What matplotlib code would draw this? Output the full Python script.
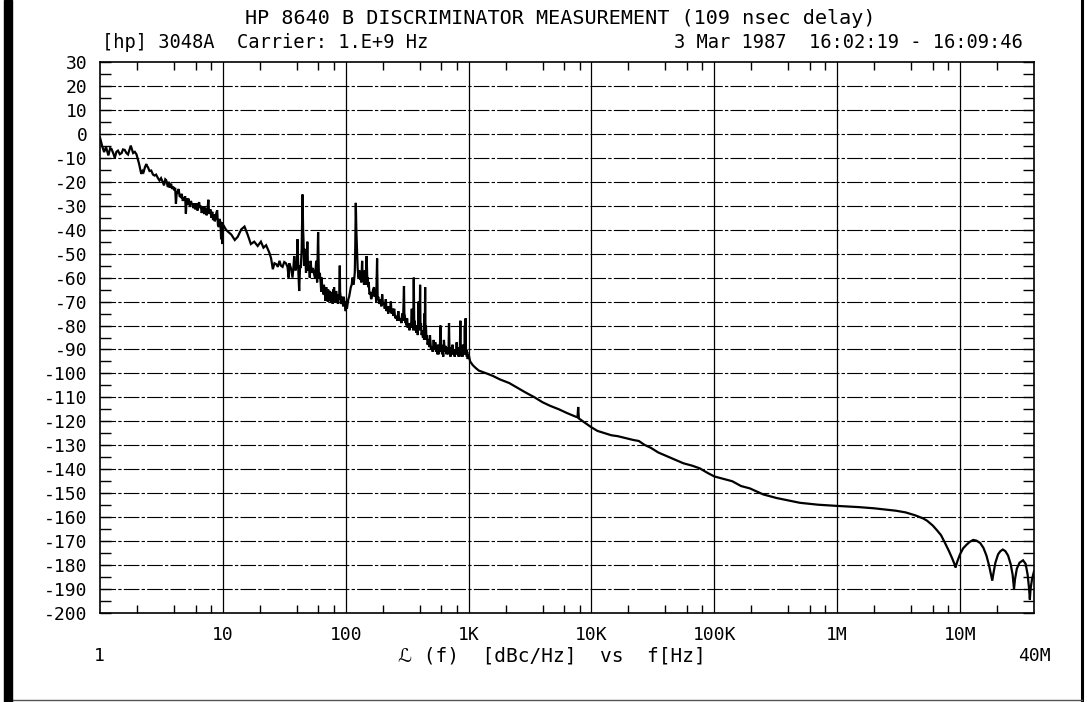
import matplotlib
matplotlib.use("Agg")
import matplotlib.pyplot as plt
from matplotlib.ticker import FixedLocator, NullFormatter
from matplotlib.patches import Rectangle
from matplotlib.lines import Line2D

# ---------------- data ----------------
f_low = [1.00, 1.04, 1.08, 1.12, 1.17, 1.21, 1.24, 1.28, 1.32, 1.36, 1.40, 1.45, 1.50, 1.54,
         1.59, 1.64, 1.69, 1.74, 1.78, 1.82, 1.86, 1.92, 1.98, 2.03, 2.08, 2.13, 2.17, 2.22,
         2.26, 2.32, 2.38, 2.42, 2.46, 2.53, 2.61, 2.70, 2.78, 2.86, 2.95, 3.05, 3.14, 3.24,
         3.32, 3.40, 3.46, 3.52, 3.57, 3.63, 3.70, 3.79, 3.86, 3.94, 4.03, 4.09, 4.15, 4.22,
         4.28, 4.36, 4.45, 4.56, 4.63, 4.72, 4.80, 4.86, 4.93, 5.00, 5.08, 5.17, 5.24, 5.32,
         5.40, 5.50, 5.60, 5.66, 5.75, 5.85, 5.94, 6.02, 6.12, 6.22, 6.32, 6.41, 6.50, 6.62,
         6.72, 6.82, 6.93, 7.05, 7.16, 7.26, 7.38, 7.50, 7.62, 7.72, 7.80, 7.92, 8.05, 8.20,
         8.32, 8.45, 8.60, 8.72, 8.85, 8.99, 9.12, 9.28, 9.40, 9.55, 9.68, 9.80, 9.90, 9.95]
l_low = [-1.5, -5, -7.6, -5.5, -9, -6, -6.3, -8, -10, -7.5, -7, -8.5, -8, -6.5,
         -6.7, -8, -8.6, -6.5, -4.9, -6.5, -8, -7.5, -8.5, -10.5, -12.5, -15, -16.7, -15.5,
         -16, -14, -12.6, -13.5, -14, -15.5, -15.3, -17, -17.4, -17, -18.3, -19.5, -18.5, -20.1,
         -21.5, -19, -19.4, -21, -22.2, -20, -22.5, -20.8, -23, -22, -23.6, -22.5, -29.2, -24,
         -24.3, -23, -26, -26.4, -25, -28, -26.5, -27.8, -26, -33.3, -27, -29.5, -27, -28.5,
         -30.5, -28, -29.5, -29.2, -31, -29, -31.5, -30.6, -29, -32, -29.5, -28.5, -31, -30,
         -33, -31.9, -30.5, -33.5, -31, -31.3, -34, -31.5, -27.5, -33, -33.3, -31.5, -35, -32.5,
         -36, -33.5, -36.5, -35.4, -33, -31.9, -38, -38.9, -35.5, -36.8, -44, -41.7, -37, -46]

f_mid = [10.0, 10.2, 10.6, 11.1, 11.7, 12.5, 13.2, 14.1, 15.0, 15.9, 16.9, 18.0, 19.2, 20.4,
         21.4, 22.5, 23.9, 24.7, 25.5, 26.3, 27.2, 28.0, 28.9, 29.7, 30.6, 31.6, 32.6, 33.6,
         34.3, 34.7, 35.8, 36.9, 37.5, 38.1, 39.0, 40.0, 40.5, 41.2, 41.8, 42.5, 43.1, 43.8,
         44.5, 45.0, 45.3, 45.8, 46.7, 47.5, 48.2, 48.7, 49.4, 50.2, 51.0, 51.8, 52.8, 54.0,
         55.0, 56.2, 57.5, 58.5, 59.6, 60.5, 61.5,
         62.5, 63.2, 63.8, 64.4, 65.0, 65.8, 66.5, 67.5, 68.4, 69.0, 69.5, 70.2, 70.8, 71.4,
         72.0, 72.8, 73.6, 74.5, 75.2, 76.0, 77.0, 77.8, 78.4, 79.0, 79.8, 80.4, 81.2, 82.0,
         83.0, 84.0, 84.8, 85.6, 86.5, 87.5, 88.5, 89.5, 90.0, 90.5, 91.5, 92.5, 93.4, 94.2,
         95.4, 96.5, 97.8, 99.0, 100.0, 101.0, 102.2, 103.5, 105.0, 106.6, 108.2, 110.0, 111.8,
         113.6, 115.3, 117.0, 118.5, 119.5, 120.8, 122.0,
         123, 125, 127, 129, 131, 132, 134, 136, 137.5, 139, 141, 143, 145, 148, 150, 151, 153,
         154, 156, 159, 161, 164, 167, 170, 172, 175, 177, 180, 182, 184, 188, 192, 195, 198,
         201, 204, 208, 212, 215, 218, 222, 225, 229, 233, 236, 240, 244, 248, 253, 258, 263,
         268, 273, 279, 284, 288, 293, 298, 300, 303, 307, 310, 313, 316, 320, 325, 330, 335,
         340, 345, 348, 352, 355, 358, 361, 364, 368, 372, 376, 381, 386, 392, 396, 400, 403,
         406, 410, 415, 420, 425, 430, 434, 437, 440, 443, 446, 450, 454, 458, 464, 471, 478,
         485, 494, 503, 511, 520, 528, 536, 543, 550, 557, 563, 570, 577, 583, 590, 595, 600,
         608, 615, 622, 630, 640, 651, 660, 670, 680, 687, 693, 699, 705, 712, 720, 730, 740,
         750, 761, 770, 780, 790, 800, 810, 820, 830, 840, 848, 857, 863, 870, 877, 885, 892,
         900, 908, 917, 925, 932, 939, 946, 953, 960, 967, 975, 983, 990]
l_mid = [-38.9, -38.5, -40, -41, -42, -44.3, -43, -39.9, -38.7, -42, -46, -45, -46.8, -45,
         -47.5, -46.5, -49.6, -52, -56.5, -54, -54.4, -55.5, -53, -55, -55.5, -53.5, -54, -55.5,
         -60, -54, -56, -60, -56, -51, -57, -55, -44, -58, -65.6, -55, -56, -48,
         -25.3, -40, -44, -55, -48, -58, -52, -45, -57, -55, -60, -53, -58, -56,
         -58, -60, -53, -62, -41, -60, -58,
         -62, -66, -60, -65, -64, -67, -63, -66, -69.7, -65, -64, -68, -67, -70,
         -65, -69, -66, -66, -70, -69, -66, -68, -71, -65, -68, -64, -70, -69,
         -66, -66, -70, -68, -71, -67, -69, -55, -66, -67, -71, -70, -68, -69,
         -72, -68, -71, -72, -74, -70, -73, -71, -69, -68, -66, -64, -63,
         -60, -63, -61, -58, -48, -28.8, -40,
         -45, -56, -60, -57, -61, -58, -62, -53, -61, -60, -63, -57, -63, -51, -62, -60, -64,
         -62, -67, -66, -69, -67.6, -65, -64, -68, -66, -70, -52, -69, -68, -71, -69, -72, -67,
         -71, -70.4, -73, -69, -74, -72, -75, -72, -74, -70, -75, -73, -76, -73, -77, -76, -78,
         -74, -78, -77, -79, -75, -78, -63.5, -75, -76, -79, -78, -80, -77, -81, -79, -82, -79,
         -81, -73, -80, -78, -82, -60, -79, -78, -82, -80, -83, -80, -84, -70, -82, -79, -63,
         -80, -79, -84, -82, -85, -82, -86, -75, -84, -64, -83, -80, -86, -84, -88, -86, -89,
         -84, -90, -89, -91, -86, -90, -87, -91, -89, -92, -88, -92, -90, -91, -80, -90, -88,
         -92, -90, -93, -86, -91, -88.5, -92, -89, -92, -90, -79, -91, -89, -93, -90, -92, -88,
         -92, -90, -93, -91, -92, -87, -92, -90, -93, -89, -92, -78, -91, -90, -93, -91, -93,
         -88, -92, -89, -92, -80, -91, -77, -92, -90, -93, -91, -94, -93]

f_high = [1000, 1030, 1080, 1130, 1210, 1400, 1570, 1800, 2140, 2500, 2920, 3450, 3990, 4600,
          5450, 6300, 7400, 7700, 7800, 7900, 8800, 10000, 11200, 12900, 14500, 16400, 19000,
          22000, 24300, 27000, 30300, 35000, 41000, 48000, 56000, 66000, 76000, 88000,
          100000, 140000, 165000, 195000, 250000, 321000, 400000, 497000,
          700000, 1.0e6, 1.5e6, 2.0e6, 2.35e6, 3.0e6, 3.6e6, 4.3e6, 5.0e6, 5.4e6, 6.0e6, 6.5e6,
          7.0e6, 7.5e6, 8.1e6, 8.6e6, 9.0e6, 9.2e6, 9.5e6, 10.0e6, 10.6e6, 11.3e6, 12.0e6,
          12.8e6, 13.6e6, 14.6e6, 15.5e6, 16.4e6, 17.2e6, 17.8e6, 18.3e6, 18.7e6, 19.4e6,
          20.4e6, 21.3e6, 22.3e6, 23.4e6, 24.6e6, 25.8e6, 26.8e6, 27.5e6, 28.0e6, 29.0e6,
          30.5e6, 32.6e6, 34.2e6, 35.5e6, 36.5e6, 37.0e6, 37.5e6, 38.5e6, 40.0e6]
l_high = [-92, -95, -96.5, -97.5, -98.8, -100, -101, -102.5, -104, -106, -108, -110, -112, -113.5,
          -115, -116.5, -118, -118.3, -114, -118.8, -120.5, -122.5, -124, -125, -125.8, -126.2, -127,
          -127.8, -128.2, -129.8, -131, -133, -134.5, -136, -137.5, -138.5, -139.6, -141.5,
          -143, -145, -147, -148, -150.5, -152, -153, -154,
          -154.8, -155.3, -155.8, -156.3, -156.7, -157.3, -158, -159.2, -160.5, -161.5, -163.5, -165.5,
          -167.5, -170.5, -174, -177, -179.5, -181, -178.5, -175.5, -173, -171.5, -170.3,
          -169.5, -169.8, -170.8, -172.8, -176, -180, -183.5, -186.5, -183.5, -179,
          -175.5, -174.2, -173.5, -174.2, -176, -179.5, -184, -190, -186, -181.5,
          -179, -178, -179.5, -184, -190, -194.4, -190, -186, -182.6]

x_tick_vals = [10, 100, 1e3, 1e4, 1e5, 1e6, 1e7]
x_tick_labels = ["10", "100", "1K", "10K", "100K", "1M", "10M"]
y_tick_vals = list(range(-200, 31, 10))
y_tick_labels = [str(v) for v in y_tick_vals]

title = "HP 8640 B DISCRIMINATOR MEASUREMENT (109 nsec delay)"
sub_left = "[hp] 3048A  Carrier: 1.E+9 Hz"
sub_right = "3 Mar 1987  16:02:19 - 16:09:46"
x_label = "\u2112 (f)  [dBc/Hz]  vs  f[Hz]"

# ---------------- figure ----------------
W, H = 1087, 702
fig = plt.figure(figsize=(W / 100, H / 100), dpi=100)
fig.patch.set_facecolor("white")
mono = ["DejaVu Sans Mono", "DejaVu Sans"]

L, R, T, B = 100, 1034, 62, 613
ax = fig.add_axes([L / W, 1 - B / H, (R - L) / W, (B - T) / H])

freq = f_low + f_mid + f_high
lev = l_low + l_mid + l_high
ax.plot(freq, lev, color="black", lw=1.6, solid_joinstyle="miter")

ax.set_xscale("log")
ax.set_xlim(1, 4e7)
ax.set_ylim(-200, 30)

# grid
for yv in y_tick_vals[1:-1]:
    ax.axhline(yv, color="black", lw=0.8, ls=(0, (14, 2, 3, 2)), zorder=0)
for xv in x_tick_vals:
    ax.axvline(xv, color="black", lw=0.9, zorder=0)

# ticks
minor_x = [m * 10 ** d for d in range(0, 8) for m in (2, 4, 6, 8) if m * 10 ** d < 4e7]
ax.xaxis.set_major_locator(FixedLocator(x_tick_vals))
ax.set_xticklabels(x_tick_labels)
ax.xaxis.set_minor_locator(FixedLocator(minor_x))
ax.xaxis.set_minor_formatter(NullFormatter())
ax.tick_params(axis="x", which="major", length=0, pad=9, labelsize=13)
ax.tick_params(axis="x", which="minor", direction="in", length=6, width=1.0,
               top=True, bottom=True)

ax.set_yticks(y_tick_vals)
ax.set_yticklabels(y_tick_labels)
ax.yaxis.set_minor_locator(FixedLocator([v + 5 for v in y_tick_vals[:-1]]))
ax.tick_params(axis="y", which="major", direction="in", length=8, width=1.0,
               left=True, right=True, pad=9, labelsize=13)
ax.tick_params(axis="y", which="minor", direction="in", length=8, width=1.0,
               left=True, right=True)
for lab in ax.get_xticklabels() + ax.get_yticklabels():
    lab.set_family(mono)

for sp in ax.spines.values():
    sp.set_linewidth(1.2)

# texts
def fx(px):
    return px / W

def fy(py):
    return 1 - py / H

fig.text(fx(560), fy(18), title, ha="center", va="center", fontsize=14.5, family=mono)
fig.text(fx(102), fy(42), sub_left, ha="left", va="center", fontsize=13.5, family=mono)
fig.text(fx(1023), fy(42), sub_right, ha="right", va="center", fontsize=13.5, family=mono)
fig.text(fx(552), fy(656), x_label, ha="center", va="center", fontsize=14, family=mono)
fig.text(fx(99), fy(656), "1", ha="center", va="center", fontsize=13, family=mono)
fig.text(fx(1034), fy(656), "40M", ha="center", va="center", fontsize=13, family=mono)

# outer page frame
fig.patches.append(Rectangle((fx(4), 0), fx(8), 1, transform=fig.transFigure,
                             color="black", zorder=5))
fig.lines.append(Line2D([fx(1082), fx(1082)], [0, 1], transform=fig.transFigure,
                        color="black", lw=2.2))
fig.lines.append(Line2D([fx(12), fx(1082)], [fy(700), fy(700)], transform=fig.transFigure,
                        color="#555555", lw=1.0))

fig.savefig("out.png", dpi=100)
